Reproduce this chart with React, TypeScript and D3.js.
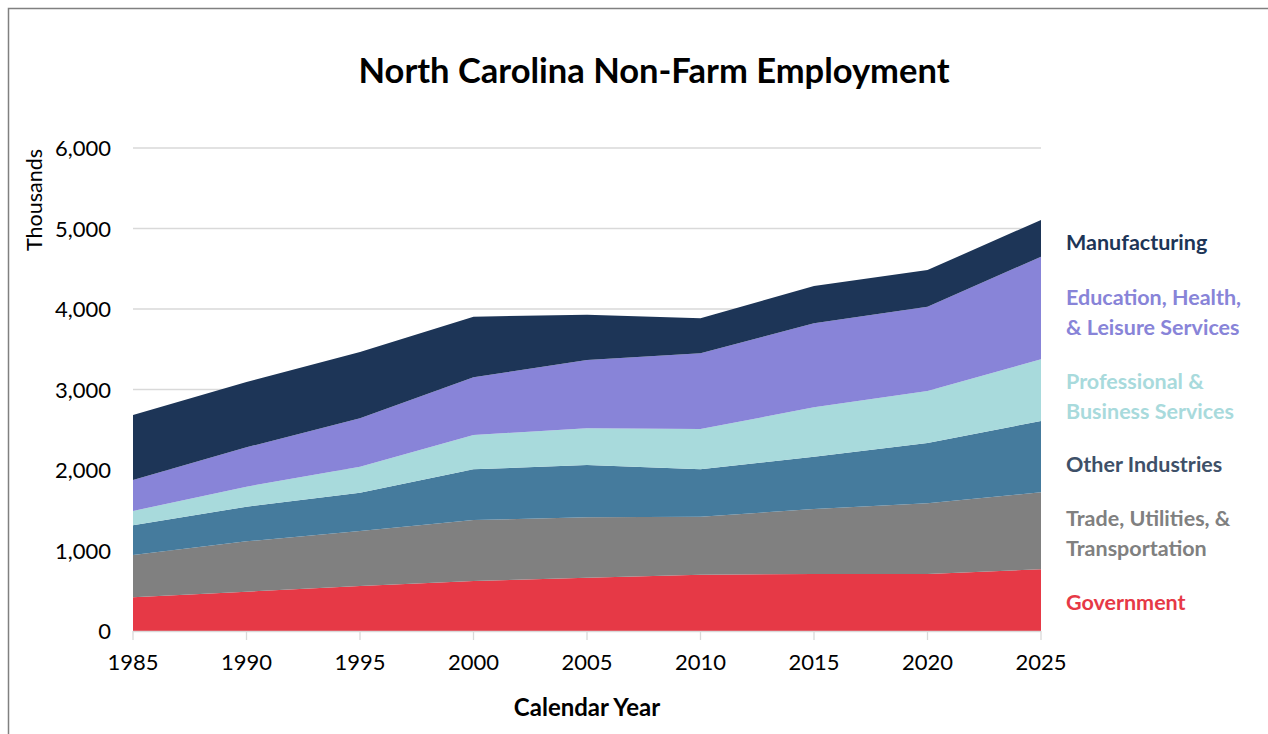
import React, { useEffect, useRef } from 'react';
import * as d3 from 'd3';

// --- data (thousands of jobs) ---
const years = [1985, 1990, 1995, 2000, 2005, 2010, 2015, 2020, 2025];
const government = [418, 488, 559, 621, 663, 700, 708, 708, 766];
const tradeUtilities = [526, 626, 683, 758, 749, 720, 807, 878, 957];
const otherIndustries = [369, 430, 476, 630, 650, 589, 651, 749, 886];
const professional = [178, 249, 323, 426, 456, 500, 612, 646, 766];
const eduHealth = [385, 489, 601, 716, 848, 941, 1044, 1048, 1275];
const manufacturing = [807, 811, 824, 753, 564, 434, 464, 455, 456];

const seriesKeys = ['gov', 'trade', 'other', 'prof', 'edu', 'manu'];
const seriesColors = ['#E63946', '#808080', '#457B9D', '#A8DADC', '#8884D8', '#1D3557'];
const labelColors = ['#E63946', '#808080', '#3E5068', '#A8DADC', '#8884D8', '#1D3557'];
const labelLines = [
    ['Government'],
    ['Trade, Utilities, &', 'Transportation'],
    ['Other Industries'],
    ['Professional &', 'Business Services'],
    ['Education, Health,', '& Leisure Services'],
    ['Manufacturing'],
];
const yTicks = [0, 1000, 2000, 3000, 4000, 5000, 6000];

const W = 1268;
const H = 734;
const FONT = 'Lato, "Open Sans", sans-serif';

const App: React.FC = () => {
    const svgRef = useRef<SVGSVGElement>(null);

    useEffect(() => {
        if (!svgRef.current) return;
        const svg = d3.select(svgRef.current);
        svg.selectAll('*').remove();

        const x = d3.scaleLinear().domain([1985, 2025]).range([133, 1041]);
        const y = d3.scaleLinear().domain([0, 6000]).range([631, 148]);

        const table = years.map((yr, i) => ({
            year: yr,
            gov: government[i],
            trade: tradeUtilities[i],
            other: otherIndustries[i],
            prof: professional[i],
            edu: eduHealth[i],
            manu: manufacturing[i],
        }));

        const stacked = d3.stack<any>().keys(seriesKeys)(table);

        // frame
        svg.append('rect')
            .attr('x', 8.5).attr('y', 8.5)
            .attr('width', W + 20).attr('height', H + 20)
            .attr('fill', 'white')
            .attr('stroke', '#808080')
            .attr('stroke-width', 1.5);

        // gridlines
        svg.append('g')
            .selectAll('line')
            .data(yTicks.filter(t => t > 0))
            .join('line')
            .attr('x1', x(1985)).attr('x2', x(2025))
            .attr('y1', d => y(d)).attr('y2', d => y(d))
            .attr('stroke', '#d9d9d9')
            .attr('stroke-width', 1.3);

        // areas
        const area = d3.area<any>()
            .x(d => x(d.data.year))
            .y0(d => y(d[0]))
            .y1(d => y(d[1]));

        svg.append('g')
            .selectAll('path')
            .data(stacked)
            .join('path')
            .attr('d', d => area(d) as string)
            .attr('fill', (d, i) => seriesColors[i]);

        // x axis line + ticks
        svg.append('line')
            .attr('x1', x(1985)).attr('x2', x(2025))
            .attr('y1', y(0) + 0.5).attr('y2', y(0) + 0.5)
            .attr('stroke', '#d9d9d9').attr('stroke-width', 1.3);

        svg.append('g')
            .selectAll('line')
            .data(years)
            .join('line')
            .attr('x1', d => x(d)).attr('x2', d => x(d))
            .attr('y1', y(0)).attr('y2', y(0) + 9)
            .attr('stroke', '#d9d9d9').attr('stroke-width', 1.3);

        svg.append('g')
            .selectAll('text')
            .data(years)
            .join('text')
            .attr('x', d => x(d))
            .attr('y', 670)
            .attr('text-anchor', 'middle')
            .attr('font-family', FONT)
            .attr('font-size', 22)
            .attr('fill', '#000')
            .text(d => d);

        // y tick labels
        svg.append('g')
            .selectAll('text')
            .data(yTicks)
            .join('text')
            .attr('x', 111)
            .attr('y', d => y(d) + 8)
            .attr('text-anchor', 'end')
            .attr('font-family', FONT)
            .attr('font-size', 22)
            .attr('fill', '#000')
            .text(d => d3.format(',')(d));

        // axis titles
        svg.append('text')
            .attr('transform', `translate(42, 200) rotate(-90)`)
            .attr('text-anchor', 'middle')
            .attr('font-family', FONT)
            .attr('font-size', 21.5)
            .attr('fill', '#000')
            .text('Thousands');

        svg.append('text')
            .attr('x', 587).attr('y', 716)
            .attr('text-anchor', 'middle')
            .attr('font-family', FONT)
            .attr('font-size', 24)
            .attr('font-weight', 'bold')
            .attr('fill', '#000')
            .text('Calendar Year');

        // title
        svg.append('text')
            .attr('x', 654).attr('y', 83)
            .attr('text-anchor', 'middle')
            .attr('font-family', FONT)
            .attr('font-size', 34.5)
            .attr('font-weight', 'bold')
            .attr('fill', '#000')
            .text('North Carolina Non-Farm Employment');

        // labels on the right
        const labelCenters = [602, 533, 464, 396, 312, 242];
        labelLines.forEach((lines, i) => {
            const t = svg.append('text')
                .attr('font-family', FONT)
                .attr('font-size', 21.5)
                .attr('font-weight', 'bold')
                .attr('fill', labelColors[i]);
            const top = labelCenters[i] - ((lines.length - 1) * 30) / 2;
            lines.forEach((ln, j) => {
                t.append('tspan')
                    .attr('x', 1066)
                    .attr('y', top + j * 30 + 8)
                    .text(ln);
            });
        });
    }, []);

    return (
        <div style={{ position: 'absolute', left: 0, top: 0, width: W, height: H, overflow: 'hidden' }}>
            <svg ref={svgRef} width={W} height={H} />
        </div>
    );
};

export default App;
